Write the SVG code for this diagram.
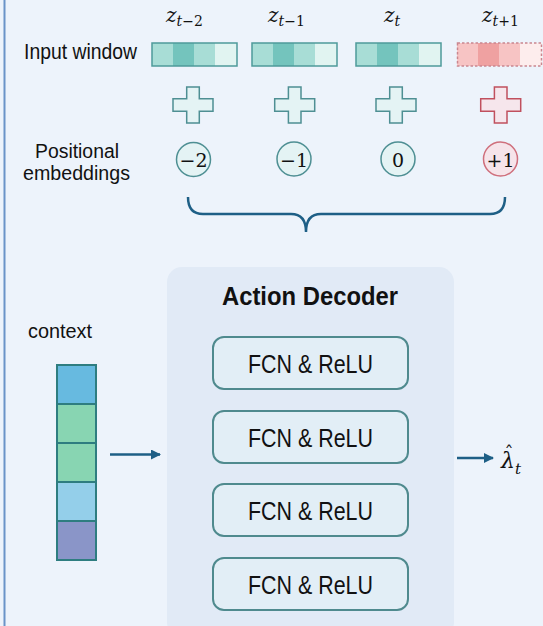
<svg xmlns="http://www.w3.org/2000/svg" width="543" height="626" viewBox="0 0 543 626">
  <defs>
    <style>
      .lbl { font-family: "Liberation Sans", Arial, sans-serif; fill: #111; }
      .math { font-family: "DejaVu Serif", "Liberation Serif", serif; fill: #111; }
      .it { font-style: italic; }
      .up { font-style: normal; }
      .cellT { stroke: none; }
      .winT { fill: none; stroke: #4E9A9A; stroke-width: 1.5; }
      .winR { fill: none; stroke: #C98790; stroke-width: 1.5; stroke-dasharray: 2.5 2; }
      .plusT { fill: #E4F3F4; stroke: #4E8F93; stroke-width: 1.5; }
      .plusR { fill: #F6E6EC; stroke: #C0505E; stroke-width: 1.5; }
      .circT { fill: #E4F3F4; stroke: #4E8F93; stroke-width: 1.5; }
      .circR { fill: #F6E4EA; stroke: #CF6F7C; stroke-width: 1.5; }
      .fcn { fill: #E2EEF6; stroke: #4F8A8E; stroke-width: 2; }
      .ctx { stroke: #2E7D80; stroke-width: 2; }
      .conn { fill: none; stroke: #1E5F86; stroke-width: 2.5; }
    </style>
    <marker id="arrow" markerWidth="10" markerHeight="10" refX="9" refY="5" orient="auto" markerUnits="userSpaceOnUse">
      <path d="M0,0 L10,5 L0,10 Z" fill="#1E5F86"/>
    </marker>
    <path id="plus" d="M-6.3,-18 H6.3 V-6.3 H20 V6.3 H6.3 V18 H-6.3 V6.3 H-20 V-6.3 H-6.3 Z"/>
  </defs>

  <!-- page background and left rule -->
  <rect x="0" y="0" width="543" height="626" fill="#EDF3FB"/>
  <line x1="4.5" y1="0" x2="4.5" y2="626" stroke="#6A93C8" stroke-width="2"/>

  <!-- row labels -->
  <g id="label-input">
    <text class="lbl" x="24" y="59" font-size="22" textLength="113" lengthAdjust="spacingAndGlyphs">Input window</text>
  </g>
  <g id="label-positional">
    <text class="lbl" x="35" y="158" font-size="20" textLength="84" lengthAdjust="spacingAndGlyphs">Positional</text>
    <text class="lbl" x="23" y="180" font-size="20" textLength="107" lengthAdjust="spacingAndGlyphs">embeddings</text>
  </g>

  <!-- window tokens -->
  <g id="token-t-2">
    <text class="math it" x="166" y="22" font-size="20">z<tspan font-size="14" dy="4">t</tspan><tspan class="up" font-size="14">−2</tspan></text>
    <rect class="cellT" x="152" y="43" width="21" height="23" fill="#A8DDD6"/>
    <rect class="cellT" x="173" y="43" width="21" height="23" fill="#74C4BD"/>
    <rect class="cellT" x="194" y="43" width="21" height="23" fill="#A8DDD6"/>
    <rect class="cellT" x="215" y="43" width="22" height="23" fill="#E1F4F1"/>
    <rect class="winT" x="152" y="43" width="85" height="23"/>
  </g>
  <g id="token-t-1">
    <text class="math it" x="268" y="22" font-size="20">z<tspan font-size="14" dy="4">t</tspan><tspan class="up" font-size="14">−1</tspan></text>
    <rect class="cellT" x="252" y="43" width="21" height="23" fill="#A8DDD6"/>
    <rect class="cellT" x="273" y="43" width="21" height="23" fill="#74C4BD"/>
    <rect class="cellT" x="294" y="43" width="21" height="23" fill="#A8DDD6"/>
    <rect class="cellT" x="315" y="43" width="22" height="23" fill="#E1F4F1"/>
    <rect class="winT" x="252" y="43" width="85" height="23"/>
  </g>
  <g id="token-t">
    <text class="math it" x="384" y="22" font-size="20">z<tspan font-size="14" dy="4">t</tspan></text>
    <rect class="cellT" x="356" y="43" width="21" height="23" fill="#A8DDD6"/>
    <rect class="cellT" x="377" y="43" width="21" height="23" fill="#74C4BD"/>
    <rect class="cellT" x="398" y="43" width="21" height="23" fill="#A8DDD6"/>
    <rect class="cellT" x="419" y="43" width="22" height="23" fill="#E1F4F1"/>
    <rect class="winT" x="356" y="43" width="85" height="23"/>
  </g>
  <g id="token-t+1">
    <text class="math it" x="482" y="22" font-size="20">z<tspan font-size="14" dy="4">t</tspan><tspan class="up" font-size="14">+1</tspan></text>
    <rect class="cellT" x="457" y="43" width="21" height="23" fill="#F7C4C4"/>
    <rect class="cellT" x="478" y="43" width="21" height="23" fill="#EFA1A1"/>
    <rect class="cellT" x="499" y="43" width="21" height="23" fill="#F7C4C4"/>
    <rect class="cellT" x="520" y="43" width="22" height="23" fill="#FDEDED"/>
    <rect class="winR" x="457.5" y="43" width="84" height="23"/>
  </g>

  <!-- plus signs -->
  <g id="plus-1"><use href="#plus" class="plusT" x="193" y="105"/></g>
  <g id="plus-2"><use href="#plus" class="plusT" x="294.7" y="105"/></g>
  <g id="plus-3"><use href="#plus" class="plusT" x="396" y="105"/></g>
  <g id="plus-4"><use href="#plus" class="plusR" x="500.7" y="105"/></g>

  <!-- positional embeddings -->
  <g id="pos-m2">
    <circle class="circT" cx="193.5" cy="159.5" r="17"/>
    <text class="math" x="193.5" y="166.5" font-size="19" text-anchor="middle">−2</text>
  </g>
  <g id="pos-m1">
    <circle class="circT" cx="294" cy="159" r="17"/>
    <text class="math" x="294" y="166.5" font-size="19" text-anchor="middle">−1</text>
  </g>
  <g id="pos-0">
    <circle class="circT" cx="398" cy="159" r="17"/>
    <text class="math" x="398" y="166.5" font-size="19" text-anchor="middle">0</text>
  </g>
  <g id="pos-p1">
    <circle class="circR" cx="500.5" cy="159" r="17"/>
    <text class="math" x="500.5" y="166.5" font-size="19" text-anchor="middle">+1</text>
  </g>

  <!-- context vector -->
  <g id="context">
    <text class="lbl" x="28" y="338" font-size="21" textLength="64" lengthAdjust="spacingAndGlyphs">context</text>
    <rect class="ctx" x="57" y="365" width="39" height="39" fill="#67BAE0"/>
    <rect class="ctx" x="57" y="404" width="39" height="39" fill="#88D5B2"/>
    <rect class="ctx" x="57" y="443" width="39" height="39" fill="#88D5B2"/>
    <rect class="ctx" x="57" y="482" width="39" height="39" fill="#94CFEA"/>
    <rect class="ctx" x="57" y="521" width="39" height="39" fill="#8A95C8"/>
  </g>

  <!-- decoder block -->
  <g id="action-decoder">
    <rect x="167" y="267" width="287" height="370" rx="15" fill="#E1EAF6"/>
    <text class="lbl" x="222" y="305" font-size="25" font-weight="bold" textLength="176" lengthAdjust="spacingAndGlyphs">Action Decoder</text>
  </g>
  <g id="fcn-1">
    <rect class="fcn" x="213" y="337" width="195" height="52" rx="11"/>
    <text class="lbl" x="310.5" y="372.5" font-size="25" text-anchor="middle" textLength="125" lengthAdjust="spacingAndGlyphs">FCN &amp; ReLU</text>
  </g>
  <g id="fcn-2">
    <rect class="fcn" x="213" y="411" width="195" height="52" rx="11"/>
    <text class="lbl" x="310.5" y="446.5" font-size="25" text-anchor="middle" textLength="125" lengthAdjust="spacingAndGlyphs">FCN &amp; ReLU</text>
  </g>
  <g id="fcn-3">
    <rect class="fcn" x="213" y="484" width="195" height="52" rx="11"/>
    <text class="lbl" x="310.5" y="519.5" font-size="25" text-anchor="middle" textLength="125" lengthAdjust="spacingAndGlyphs">FCN &amp; ReLU</text>
  </g>
  <g id="fcn-4">
    <rect class="fcn" x="213" y="558" width="195" height="52" rx="11"/>
    <text class="lbl" x="310.5" y="593.5" font-size="25" text-anchor="middle" textLength="125" lengthAdjust="spacingAndGlyphs">FCN &amp; ReLU</text>
  </g>

  <!-- output label: lambda with a hat, subscript t -->
  <g id="output">
    <text class="math it" x="501" y="468" font-size="22">λ<tspan class="up" font-size="18" dx="-10.5" dy="-8">ˆ</tspan><tspan font-size="15" dx="1.5" dy="14">t</tspan></text>
  </g>

  <!-- connectors -->
  <g id="connectors">
    <path class="conn" stroke-width="3.5" d="M188,197 Q188,214 203,214 L291,214 Q306,214 306,232 Q306,214 321,214 L490,214 Q505,214 505,197"/>
    <line class="conn" x1="110" y1="454.5" x2="160" y2="454.5" marker-end="url(#arrow)"/>
    <line class="conn" x1="457" y1="458" x2="493" y2="458" marker-end="url(#arrow)"/>
  </g>
</svg>
